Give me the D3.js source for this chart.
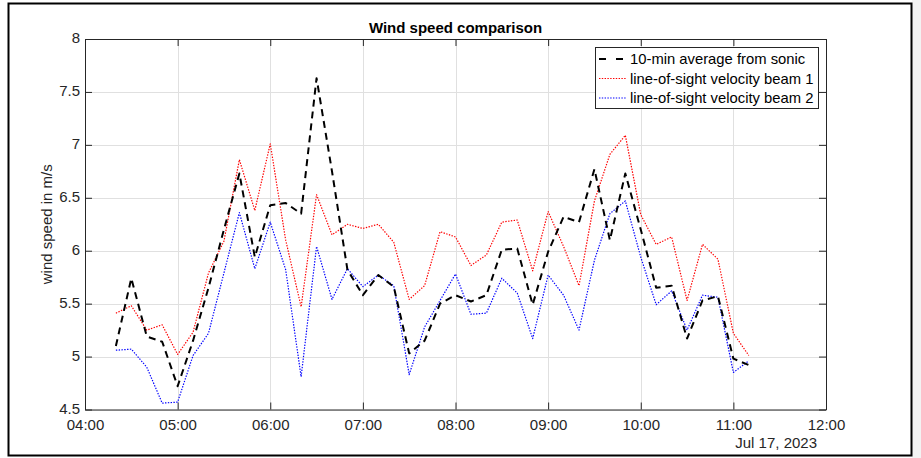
<!DOCTYPE html>
<html>
<head>
<meta charset="utf-8">
<script src="https://cdn.jsdelivr.net/npm/d3@7"></script>
<style>
  html, body { margin: 0; padding: 0; background: #ffffff; }
  svg { display: block; font-family: Arial, "Liberation Sans", Helvetica, sans-serif; }
</style>
</head>
<body>
<svg id="chart" width="921" height="458"></svg>
<script>
// Sample times (10-minute means), 17 July 2023
const times = [
  "04:20","04:30","04:40","04:50","05:00","05:10","05:20","05:30","05:40","05:50",
  "06:00","06:10","06:20","06:30","06:40","06:50","07:00","07:10","07:20","07:30",
  "07:40","07:50","08:00","08:10","08:20","08:30","08:40","08:50","09:00","09:10",
  "09:20","09:30","09:40","09:50","10:00","10:10","10:20","10:30","10:40","10:50",
  "11:00","11:10"
];

// 10-min average wind speed from the sonic anemometer (m/s)
const sonic = [
  5.10, 5.74, 5.19, 5.14, 4.72, 5.15, 5.65, 6.20, 6.73, 5.94,
  6.43, 6.45, 6.35, 7.63, 6.75, 5.82, 5.58, 5.77, 5.66, 5.03,
  5.15, 5.50, 5.58, 5.52, 5.58, 6.01, 6.02, 5.49, 5.99, 6.32,
  6.27, 6.77, 6.10, 6.73, 6.20, 5.65, 5.67, 5.17, 5.53, 5.57,
  4.98, 4.92
];

// Line-of-sight velocity, beam 1 (m/s)
const beam1 = [
  5.41, 5.48, 5.25, 5.30, 5.02, 5.23, 5.79, 6.09, 6.86, 6.38,
  7.01, 6.10, 5.47, 6.53, 6.15, 6.25, 6.21, 6.25, 6.08, 5.54,
  5.67, 6.18, 6.13, 5.86, 5.96, 6.27, 6.29, 5.81, 6.37, 6.04,
  5.67, 6.47, 6.91, 7.09, 6.34, 6.06, 6.13, 5.53, 6.06, 5.92,
  5.22, 5.01
];

// Line-of-sight velocity, beam 2 (m/s)
const beam2 = [
  5.06, 5.07, 4.90, 4.56, 4.57, 5.01, 5.22, 5.79, 6.36, 5.83,
  6.27, 5.82, 4.81, 6.04, 5.54, 5.83, 5.66, 5.77, 5.67, 4.83,
  5.28, 5.53, 5.78, 5.40, 5.41, 5.74, 5.60, 5.17, 5.77, 5.58,
  5.25, 5.91, 6.35, 6.47, 5.94, 5.49, 5.62, 5.25, 5.58, 5.56,
  4.85, 4.96
];

const xTickLabels = ["04:00","05:00","06:00","07:00","08:00","09:00","10:00","11:00","12:00"];
const yTickValues = [4.5, 5, 5.5, 6, 6.5, 7, 7.5, 8];
const seriesNames = ["10-min average from sonic", "line-of-sight velocity beam 1", "line-of-sight velocity beam 2"];
const dateLabel = "Jul 17, 2023";
const titleText = "Wind speed comparison";
const yLabelText = "wind speed in m/s";

const day = "2023-07-17";
const parse = d3.timeParse("%Y-%m-%d %H:%M");
const dates = times.map(t => parse(day + " " + t));
const xTicks = xTickLabels.map(t => parse(day + " " + t));

const svg = d3.select("#chart");
const W = 921, H = 458;
const m = { left: 85, right: 826, top: 39, bottom: 409.5 };
const axisColor = "#262626";
const tickFont = 15;

// figure frame
svg.append("rect").attr("x", 0).attr("y", 0).attr("width", W).attr("height", H).attr("fill", "#ffffff");
svg.append("rect").attr("x", 912).attr("y", 0).attr("width", 9).attr("height", H).attr("fill", "#f3f3f3");
svg.append("rect")
  .attr("x", 8.5).attr("y", 3.5).attr("width", 903).attr("height", 452)
  .attr("fill", "#ffffff").attr("stroke", "#000000").attr("stroke-width", 2);

const x = d3.scaleTime().domain([xTicks[0], xTicks[xTicks.length - 1]]).range([m.left, m.right]);
const y = d3.scaleLinear().domain([4.5, 8]).range([m.bottom, m.top]);

// grid
const grid = svg.append("g").attr("class", "grid");
grid.selectAll("line.gx").data(xTicks).join("line")
  .attr("x1", d => Math.round(x(d)) + 0.5).attr("x2", d => Math.round(x(d)) + 0.5)
  .attr("y1", m.top).attr("y2", m.bottom)
  .attr("stroke", "#e0e0e0").attr("stroke-width", 1);
grid.selectAll("line.gy").data(yTickValues).join("line")
  .attr("x1", m.left).attr("x2", m.right)
  .attr("y1", d => Math.round(y(d)) + 0.5).attr("y2", d => Math.round(y(d)) + 0.5)
  .attr("stroke", "#e0e0e0").attr("stroke-width", 1);

// axes with inward ticks on all four sides
const fmtY = d => String(d);
const styleAxis = g => {
  g.select(".domain").attr("stroke", axisColor).attr("stroke-width", 1);
  g.selectAll(".tick line").attr("stroke", axisColor).attr("stroke-width", 1);
  g.selectAll(".tick text").attr("fill", axisColor).attr("font-size", tickFont)
    .attr("font-family", "Arial, 'Liberation Sans', sans-serif");
};

svg.append("g").attr("transform", `translate(0,${m.bottom})`)
  .call(d3.axisBottom(x).tickValues(xTicks).tickFormat(d3.timeFormat("%H:%M"))
    .tickSizeInner(-7).tickSizeOuter(0).tickPadding(10))
  .call(styleAxis);
svg.append("g").attr("transform", `translate(0,${m.top})`)
  .call(d3.axisTop(x).tickValues(xTicks).tickFormat("").tickSizeInner(-7).tickSizeOuter(0))
  .call(styleAxis);
svg.append("g").attr("transform", `translate(${m.left},0)`)
  .call(d3.axisLeft(y).tickValues(yTickValues).tickFormat(fmtY)
    .tickSizeInner(-7).tickSizeOuter(0).tickPadding(5))
  .call(styleAxis)
  .call(g => g.selectAll(".tick text").attr("dy", "3.5px"));
svg.append("g").attr("transform", `translate(${m.right},0)`)
  .call(d3.axisRight(y).tickValues(yTickValues).tickFormat("").tickSizeInner(-7).tickSizeOuter(0))
  .call(styleAxis);

// date under the time axis
svg.append("text")
  .attr("x", m.right - 9).attr("y", 448)
  .attr("text-anchor", "end").attr("font-size", tickFont).attr("fill", axisColor)
  .text(dateLabel);

// title
svg.append("text")
  .attr("x", (m.left + m.right) / 2).attr("y", 33)
  .attr("text-anchor", "middle").attr("font-size", 15).attr("font-weight", "bold").attr("fill", "#000")
  .text(titleText);

// y label
svg.append("text")
  .attr("transform", `translate(52,${(m.top + m.bottom) / 2}) rotate(-90)`)
  .attr("text-anchor", "middle").attr("font-size", 15).attr("fill", axisColor)
  .text(yLabelText);

// series
const line = d3.line().x((d, i) => x(dates[i])).y(d => y(d));
const seriesStyles = [
  { data: sonic, color: "#000000", width: 2, dash: "7,5" },
  { data: beam1, color: "#ff0000", width: 1.2, dash: "1.4,1.4" },
  { data: beam2, color: "#0000ff", width: 1.2, dash: "1.4,1.4" }
];
const plot = svg.append("g");
// dotted beams first, dashed sonic on top
[seriesStyles[1], seriesStyles[2], seriesStyles[0]].forEach(s => {
  plot.append("path").datum(s.data)
    .attr("d", line)
    .attr("fill", "none")
    .attr("stroke", s.color)
    .attr("stroke-width", s.width)
    .attr("stroke-dasharray", s.dash)
    .attr("stroke-linejoin", "round");
});

// legend
const lg = svg.append("g");
lg.append("rect").attr("x", 595.5).attr("y", 47.5).attr("width", 223).attr("height", 61)
  .attr("fill", "#ffffff").attr("stroke", axisColor).attr("stroke-width", 1);
seriesStyles.forEach((s, i) => {
  const cy = 59 + i * 19.5;
  lg.append("line").attr("x1", 599).attr("x2", 627).attr("y1", cy).attr("y2", cy)
    .attr("stroke", s.color).attr("stroke-width", s.width)
    .attr("stroke-dasharray", i === 0 ? "7,10" : s.dash);
  lg.append("text").attr("x", 630).attr("y", cy + 5)
    .attr("font-size", 14.8).attr("fill", "#000")
    .text(seriesNames[i]);
});
</script>
</body>
</html>
